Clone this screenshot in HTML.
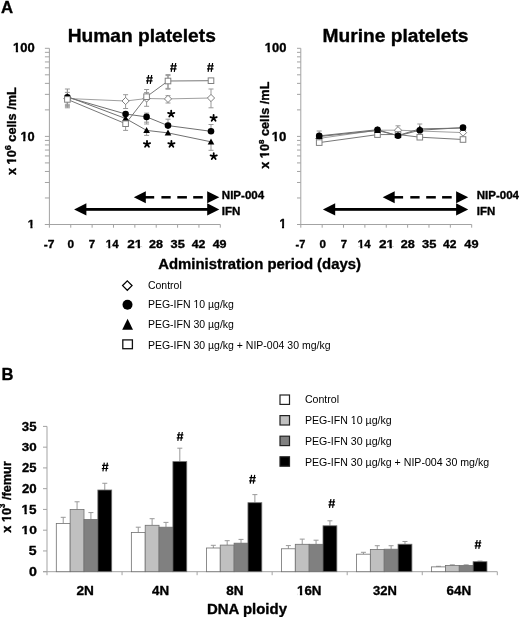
<!DOCTYPE html>
<html><head><meta charset="utf-8"><style>
html,body{margin:0;padding:0;background:#fff;width:520px;height:617px;overflow:hidden}
svg{display:block;will-change:transform;filter:blur(0.3px)}
</style></head><body>
<svg width="520" height="617" viewBox="0 0 520 617">
<rect width="520" height="617" fill="#fff"/>
<g transform="matrix(1.0468,0,0,0.9926,0.97,13.44)" font-family="&quot;Liberation Sans&quot;, sans-serif" font-weight="bold" stroke="#000" stroke-width="0.343" stroke-linejoin="round" fill="#000"><text xml:space="preserve" x="0.00" y="0.00" font-size="16.00">A</text></g>
<g transform="matrix(1.0357,0,0,1.0889,1.54,380.38)" font-family="&quot;Liberation Sans&quot;, sans-serif" font-weight="bold" stroke="#000" stroke-width="0.329" stroke-linejoin="round" fill="#000"><text xml:space="preserve" x="0.00" y="0.00" font-size="16.00">B</text></g>
<g transform="matrix(1.0101,0,0,0.9812,67.66,41.74)" font-family="&quot;Liberation Sans&quot;, sans-serif" font-weight="bold" stroke="#000" stroke-width="0.352" stroke-linejoin="round" fill="#000"><text xml:space="preserve" x="0.00" y="0.00" font-size="19.00">Human platelets</text></g>
<g stroke="#a3a3a3" stroke-width="1" fill="none">
<line x1="49.4" y1="48.3" x2="49.4" y2="224.5"/>
<line x1="44.9" y1="224.5" x2="220.3" y2="224.5"/>
<line x1="44.9" y1="224.50" x2="49.4" y2="224.50"/>
<line x1="44.9" y1="197.98" x2="49.4" y2="197.98"/>
<line x1="44.9" y1="182.47" x2="49.4" y2="182.47"/>
<line x1="44.9" y1="171.46" x2="49.4" y2="171.46"/>
<line x1="44.9" y1="162.92" x2="49.4" y2="162.92"/>
<line x1="44.9" y1="155.94" x2="49.4" y2="155.94"/>
<line x1="44.9" y1="150.05" x2="49.4" y2="150.05"/>
<line x1="44.9" y1="144.94" x2="49.4" y2="144.94"/>
<line x1="44.9" y1="140.43" x2="49.4" y2="140.43"/>
<line x1="44.9" y1="136.40" x2="49.4" y2="136.40"/>
<line x1="44.9" y1="109.88" x2="49.4" y2="109.88"/>
<line x1="44.9" y1="94.37" x2="49.4" y2="94.37"/>
<line x1="44.9" y1="83.36" x2="49.4" y2="83.36"/>
<line x1="44.9" y1="74.82" x2="49.4" y2="74.82"/>
<line x1="44.9" y1="67.84" x2="49.4" y2="67.84"/>
<line x1="44.9" y1="61.95" x2="49.4" y2="61.95"/>
<line x1="44.9" y1="56.84" x2="49.4" y2="56.84"/>
<line x1="44.9" y1="52.33" x2="49.4" y2="52.33"/>
<line x1="44.9" y1="48.3" x2="49.4" y2="48.3"/>
<line x1="49.40" y1="224.5" x2="49.40" y2="227.7"/>
<line x1="70.76" y1="224.5" x2="70.76" y2="227.7"/>
<line x1="92.12" y1="224.5" x2="92.12" y2="227.7"/>
<line x1="113.49" y1="224.5" x2="113.49" y2="227.7"/>
<line x1="134.85" y1="224.5" x2="134.85" y2="227.7"/>
<line x1="156.21" y1="224.5" x2="156.21" y2="227.7"/>
<line x1="177.58" y1="224.5" x2="177.58" y2="227.7"/>
<line x1="198.94" y1="224.5" x2="198.94" y2="227.7"/>
<line x1="220.30" y1="224.5" x2="220.30" y2="227.7"/>
</g>
<g transform="matrix(1.0816,0,0,1.0102,13.01,52.17)" font-family="&quot;Liberation Sans&quot;, sans-serif" font-weight="bold" stroke="#000" stroke-width="0.335" stroke-linejoin="round" fill="#000"><text xml:space="preserve" x="0.00" y="0.00" font-size="12.00">100</text><rect x="0.087" y="-2.160" width="2.474" height="3.729" fill="#fff" stroke="none"/><rect x="4.687" y="-2.160" width="2.322" height="3.729" fill="#fff" stroke="none"/></g>
<g transform="matrix(1.0669,0,0,1.0100,20.41,140.61)" font-family="&quot;Liberation Sans&quot;, sans-serif" font-weight="bold" stroke="#000" stroke-width="0.337" stroke-linejoin="round" fill="#000"><text xml:space="preserve" x="0.00" y="0.00" font-size="12.00">10</text><rect x="0.082" y="-2.164" width="2.479" height="3.738" fill="#fff" stroke="none"/><rect x="4.687" y="-2.164" width="2.327" height="3.738" fill="#fff" stroke="none"/></g>
<g transform="matrix(1.0016,0,0,0.9835,27.82,227.64)" font-family="&quot;Liberation Sans&quot;, sans-serif" font-weight="bold" stroke="#000" stroke-width="0.353" stroke-linejoin="round" fill="#000"><text xml:space="preserve" x="0.00" y="0.00" font-size="12.00">1</text><rect x="0.051" y="-2.189" width="2.510" height="3.794" fill="#fff" stroke="none"/><rect x="4.687" y="-2.189" width="2.358" height="3.794" fill="#fff" stroke="none"/></g>
<g transform="matrix(1.0100,0,0,0.9404,43.82,248.44)" font-family="&quot;Liberation Sans&quot;, sans-serif" font-weight="bold" stroke="#000" stroke-width="0.359" stroke-linejoin="round" fill="#000"><text xml:space="preserve" x="0.00" y="0.00" font-size="12.00">-7</text></g>
<g transform="matrix(0.9858,0,0,0.9452,67.50,248.34)" font-family="&quot;Liberation Sans&quot;, sans-serif" font-weight="bold" stroke="#000" stroke-width="0.363" stroke-linejoin="round" fill="#000"><text xml:space="preserve" x="0.00" y="0.00" font-size="12.00">0</text></g>
<g transform="matrix(0.9566,0,0,0.9468,88.68,248.49)" font-family="&quot;Liberation Sans&quot;, sans-serif" font-weight="bold" stroke="#000" stroke-width="0.368" stroke-linejoin="round" fill="#000"><text xml:space="preserve" x="0.00" y="0.00" font-size="12.00">7</text></g>
<g transform="matrix(0.9592,0,0,0.9404,105.85,248.44)" font-family="&quot;Liberation Sans&quot;, sans-serif" font-weight="bold" stroke="#000" stroke-width="0.369" stroke-linejoin="round" fill="#000"><text xml:space="preserve" x="0.00" y="0.00" font-size="12.00">14</text><rect x="0.019" y="-2.214" width="2.542" height="3.851" fill="#fff" stroke="none"/><rect x="4.687" y="-2.214" width="2.390" height="3.851" fill="#fff" stroke="none"/></g>
<g transform="matrix(1.1308,0,0,0.9328,127.21,248.44)" font-family="&quot;Liberation Sans&quot;, sans-serif" font-weight="bold" stroke="#000" stroke-width="0.339" stroke-linejoin="round" fill="#000"><text xml:space="preserve" x="0.00" y="0.00" font-size="12.00">21</text><rect x="6.751" y="-2.167" width="2.483" height="3.746" fill="#fff" stroke="none"/><rect x="11.361" y="-2.167" width="2.331" height="3.746" fill="#fff" stroke="none"/></g>
<g transform="matrix(1.0459,0,0,0.9062,149.05,248.15)" font-family="&quot;Liberation Sans&quot;, sans-serif" font-weight="bold" stroke="#000" stroke-width="0.359" stroke-linejoin="round" fill="#000"><text xml:space="preserve" x="0.00" y="0.00" font-size="12.00">28</text></g>
<g transform="matrix(1.0677,0,0,0.8988,170.55,248.20)" font-family="&quot;Liberation Sans&quot;, sans-serif" font-weight="bold" stroke="#000" stroke-width="0.356" stroke-linejoin="round" fill="#000"><text xml:space="preserve" x="0.00" y="0.00" font-size="12.00">35</text></g>
<g transform="matrix(1.0288,0,0,0.9269,191.69,248.44)" font-family="&quot;Liberation Sans&quot;, sans-serif" font-weight="bold" stroke="#000" stroke-width="0.358" stroke-linejoin="round" fill="#000"><text xml:space="preserve" x="0.00" y="0.00" font-size="12.00">42</text></g>
<g transform="matrix(1.0434,0,0,0.8925,212.63,248.15)" font-family="&quot;Liberation Sans&quot;, sans-serif" font-weight="bold" stroke="#000" stroke-width="0.362" stroke-linejoin="round" fill="#000"><text xml:space="preserve" x="0.00" y="0.00" font-size="12.00">49</text></g>
<g transform="translate(15.55,175.07) rotate(-90) scale(1.0622,1.0109)" font-family="&quot;Liberation Sans&quot;, sans-serif" font-weight="bold" stroke="#000" stroke-width="0.338" stroke-linejoin="round" fill="#000"><text xml:space="preserve" x="0.00" y="0.00" font-size="12.00">x 10</text><text xml:space="preserve" x="23.36" y="-4.08" font-size="8.64">6</text><text xml:space="preserve" x="28.16" y="0.00" font-size="12.00"> cells /mL</text><rect x="10.089" y="-2.165" width="2.480" height="3.740" fill="#fff" stroke="none"/><rect x="14.696" y="-2.165" width="2.328" height="3.740" fill="#fff" stroke="none"/></g>
<rect x="84.10" y="208.0" width="124.10" height="2.8" fill="#000"/>
<polygon points="74.10,209.4 86.40,203.35 86.40,215.45000000000002" fill="#000"/>
<polygon points="219.30,209.4 207.20,203.35 207.20,215.45000000000002" fill="#000"/>
<polygon points="133.80,197.3 145.80,191.25 145.80,203.35000000000002" fill="#000"/>
<rect x="143.80" y="196.05" width="10.40" height="2.5" fill="#000"/>
<rect x="161.40" y="196.05" width="9.30" height="2.5" fill="#000"/>
<rect x="177.30" y="196.05" width="9.60" height="2.5" fill="#000"/>
<rect x="193.20" y="196.05" width="9.60" height="2.5" fill="#000"/>
<polygon points="219.30,197.3 207.20,191.25 207.20,203.35000000000002" fill="#000"/>
<g transform="matrix(1.0496,0,0,1.0155,221.84,199.13)" font-family="&quot;Liberation Sans&quot;, sans-serif" font-weight="bold" stroke="#000" stroke-width="0.339" stroke-linejoin="round" fill="#000"><text xml:space="preserve" x="0.00" y="0.00" font-size="11.00">NIP-004</text></g>
<g transform="matrix(1.0506,0,0,1.0259,221.84,215.38)" font-family="&quot;Liberation Sans&quot;, sans-serif" font-weight="bold" stroke="#000" stroke-width="0.337" stroke-linejoin="round" fill="#000"><text xml:space="preserve" x="0.00" y="0.00" font-size="11.00">IFN</text></g>
<g stroke="#999999" stroke-width="1">
<line x1="67.4" y1="89" x2="67.4" y2="107.8"/>
<line x1="64.9" y1="89" x2="69.9" y2="89"/>
<line x1="64.9" y1="107.8" x2="69.9" y2="107.8"/>
<line x1="67.4" y1="92.4" x2="67.4" y2="104.3"/>
<line x1="64.9" y1="92.4" x2="69.9" y2="92.4"/>
<line x1="64.9" y1="104.3" x2="69.9" y2="104.3"/>
<line x1="67.4" y1="92.4" x2="67.4" y2="105.6"/>
<line x1="64.9" y1="105.6" x2="69.9" y2="105.6"/>
<line x1="67.4" y1="89" x2="67.4" y2="106.7"/>
<line x1="64.9" y1="106.7" x2="69.9" y2="106.7"/>
<line x1="125.6" y1="94.7" x2="125.6" y2="108.5"/>
<line x1="123.1" y1="94.7" x2="128.1" y2="94.7"/>
<line x1="123.1" y1="108.5" x2="128.1" y2="108.5"/>
<line x1="125.6" y1="123.7" x2="125.6" y2="130.4"/>
<line x1="123.1" y1="130.4" x2="128.1" y2="130.4"/>
<line x1="146.6" y1="89.5" x2="146.6" y2="106.3"/>
<line x1="144.1" y1="89.5" x2="149.1" y2="89.5"/>
<line x1="144.1" y1="106.3" x2="149.1" y2="106.3"/>
<line x1="146.6" y1="92.6" x2="146.6" y2="99"/>
<line x1="144.1" y1="92.6" x2="149.1" y2="92.6"/>
<line x1="146.6" y1="113.1" x2="146.6" y2="124.0"/>
<line x1="144.1" y1="113.1" x2="149.1" y2="113.1"/>
<line x1="144.1" y1="124.0" x2="149.1" y2="124.0"/>
<line x1="146.6" y1="116.9" x2="146.6" y2="122.2"/>
<line x1="144.1" y1="122.2" x2="149.1" y2="122.2"/>
<line x1="146.6" y1="130.4" x2="146.6" y2="135.4"/>
<line x1="144.1" y1="135.4" x2="149.1" y2="135.4"/>
<line x1="168.0" y1="74.6" x2="168.0" y2="89.2"/>
<line x1="165.5" y1="74.6" x2="170.5" y2="74.6"/>
<line x1="165.5" y1="89.2" x2="170.5" y2="89.2"/>
<line x1="168.0" y1="75.6" x2="168.0" y2="88.4"/>
<line x1="165.5" y1="75.6" x2="170.5" y2="75.6"/>
<line x1="165.5" y1="88.4" x2="170.5" y2="88.4"/>
<line x1="168.0" y1="95.7" x2="168.0" y2="103"/>
<line x1="165.5" y1="95.7" x2="170.5" y2="95.7"/>
<line x1="165.5" y1="103" x2="170.5" y2="103"/>
<line x1="168.0" y1="119.2" x2="168.0" y2="125.6"/>
<line x1="165.5" y1="119.2" x2="170.5" y2="119.2"/>
<line x1="211.0" y1="89" x2="211.0" y2="107.8"/>
<line x1="208.5" y1="89" x2="213.5" y2="89"/>
<line x1="208.5" y1="107.8" x2="213.5" y2="107.8"/>
<line x1="211.0" y1="124.5" x2="211.0" y2="131.3"/>
<line x1="208.5" y1="124.5" x2="213.5" y2="124.5"/>
<line x1="211.0" y1="141.8" x2="211.0" y2="150.3"/>
<line x1="208.5" y1="150.3" x2="213.5" y2="150.3"/>
</g>
<polyline points="67.4,98.5 125.6,101.0 146.6,98.5 168.0,98.9 211.0,98.0" fill="none" stroke="#a0a0a0" stroke-width="1"/>
<polyline points="67.4,99.4 125.6,123.7 146.6,96.7 168.0,81.0 211.0,80.7" fill="none" stroke="#787878" stroke-width="1"/>
<polyline points="67.4,97.2 125.6,114.0 146.6,116.9 168.0,125.6 211.0,131.3" fill="none" stroke="#707070" stroke-width="1"/>
<polyline points="67.4,96.6 125.6,118.5 146.6,130.4 168.0,132.9 211.0,141.8" fill="none" stroke="#707070" stroke-width="1"/>
<polygon points="67.4,94.9 71.0,98.5 67.4,102.1 63.800000000000004,98.5" fill="#fff" stroke="#808080" stroke-width="1"/>
<polygon points="125.6,97.4 129.2,101.0 125.6,104.6 122.0,101.0" fill="#fff" stroke="#808080" stroke-width="1"/>
<polygon points="146.6,94.9 150.2,98.5 146.6,102.1 143.0,98.5" fill="#fff" stroke="#808080" stroke-width="1"/>
<polygon points="168.0,95.30000000000001 171.6,98.9 168.0,102.5 164.4,98.9" fill="#fff" stroke="#808080" stroke-width="1"/>
<polygon points="211.0,94.4 214.6,98.0 211.0,101.6 207.4,98.0" fill="#fff" stroke="#808080" stroke-width="1"/>
<circle cx="67.4" cy="97.2" r="3.3" fill="#000"/>
<circle cx="125.6" cy="114.0" r="3.3" fill="#000"/>
<circle cx="146.6" cy="116.9" r="3.3" fill="#000"/>
<circle cx="168.0" cy="125.6" r="3.3" fill="#000"/>
<circle cx="211.0" cy="131.3" r="3.3" fill="#000"/>
<polygon points="67.4,93.19999999999999 70.7,99.19999999999999 64.10000000000001,99.19999999999999" fill="#000"/>
<polygon points="125.6,115.1 128.9,121.1 122.3,121.1" fill="#000"/>
<polygon points="146.6,127.0 149.9,133.0 143.29999999999998,133.0" fill="#000"/>
<polygon points="168.0,129.5 171.3,135.5 164.7,135.5" fill="#000"/>
<polygon points="211.0,138.4 214.3,144.4 207.7,144.4" fill="#000"/>
<rect x="64.60000000000001" y="96.60000000000001" width="5.6" height="5.6" fill="#fff" stroke="#808080" stroke-width="1"/>
<rect x="122.8" y="120.9" width="5.6" height="5.6" fill="#fff" stroke="#808080" stroke-width="1"/>
<rect x="143.79999999999998" y="93.9" width="5.6" height="5.6" fill="#fff" stroke="#808080" stroke-width="1"/>
<rect x="165.2" y="78.2" width="5.6" height="5.6" fill="#fff" stroke="#808080" stroke-width="1"/>
<rect x="208.2" y="77.9" width="5.6" height="5.6" fill="#fff" stroke="#808080" stroke-width="1"/>
<path d="M147.20,83.80L148.60,75.00M150.30,83.80L151.70,75.00M146.40,77.80L152.80,77.80M146.10,80.90L152.50,80.90" stroke="#000" stroke-width="1.2" fill="none"/>
<path d="M171.20,71.80L172.60,63.00M174.30,71.80L175.70,63.00M170.40,65.80L176.80,65.80M170.10,68.90L176.50,68.90" stroke="#000" stroke-width="1.2" fill="none"/>
<path d="M208.10,71.80L209.50,63.00M211.20,71.80L212.60,63.00M207.30,65.80L213.70,65.80M207.00,68.90L213.40,68.90" stroke="#000" stroke-width="1.2" fill="none"/>
<path d="M147.00,144.10L147.00,140.80M147.00,144.10L150.14,143.08M147.00,144.10L148.94,146.77M147.00,144.10L145.06,146.77M147.00,144.10L143.86,143.08" stroke="#000" stroke-width="1.8" stroke-linecap="round" fill="none"/>
<path d="M171.20,113.90L171.20,110.60M171.20,113.90L174.34,112.88M171.20,113.90L173.14,116.57M171.20,113.90L169.26,116.57M171.20,113.90L168.06,112.88" stroke="#000" stroke-width="1.8" stroke-linecap="round" fill="none"/>
<path d="M171.40,144.10L171.40,140.80M171.40,144.10L174.54,143.08M171.40,144.10L173.34,146.77M171.40,144.10L169.46,146.77M171.40,144.10L168.26,143.08" stroke="#000" stroke-width="1.8" stroke-linecap="round" fill="none"/>
<path d="M213.60,118.10L213.60,114.80M213.60,118.10L216.74,117.08M213.60,118.10L215.54,120.77M213.60,118.10L211.66,120.77M213.60,118.10L210.46,117.08" stroke="#000" stroke-width="1.8" stroke-linecap="round" fill="none"/>
<path d="M213.70,156.40L213.70,153.10M213.70,156.40L216.84,155.38M213.70,156.40L215.64,159.07M213.70,156.40L211.76,159.07M213.70,156.40L210.56,155.38" stroke="#000" stroke-width="1.8" stroke-linecap="round" fill="none"/>
<g transform="matrix(1.0105,0,0,0.9812,322.50,41.74)" font-family="&quot;Liberation Sans&quot;, sans-serif" font-weight="bold" stroke="#000" stroke-width="0.351" stroke-linejoin="round" fill="#000"><text xml:space="preserve" x="0.00" y="0.00" font-size="19.00">Murine platelets</text></g>
<g stroke="#a3a3a3" stroke-width="1" fill="none">
<line x1="300.8" y1="48.3" x2="300.8" y2="224.5"/>
<line x1="297.0" y1="224.5" x2="471.70000000000005" y2="224.5"/>
<line x1="297.0" y1="224.50" x2="300.8" y2="224.50"/>
<line x1="297.0" y1="197.98" x2="300.8" y2="197.98"/>
<line x1="297.0" y1="182.47" x2="300.8" y2="182.47"/>
<line x1="297.0" y1="171.46" x2="300.8" y2="171.46"/>
<line x1="297.0" y1="162.92" x2="300.8" y2="162.92"/>
<line x1="297.0" y1="155.94" x2="300.8" y2="155.94"/>
<line x1="297.0" y1="150.05" x2="300.8" y2="150.05"/>
<line x1="297.0" y1="144.94" x2="300.8" y2="144.94"/>
<line x1="297.0" y1="140.43" x2="300.8" y2="140.43"/>
<line x1="297.0" y1="136.40" x2="300.8" y2="136.40"/>
<line x1="297.0" y1="109.88" x2="300.8" y2="109.88"/>
<line x1="297.0" y1="94.37" x2="300.8" y2="94.37"/>
<line x1="297.0" y1="83.36" x2="300.8" y2="83.36"/>
<line x1="297.0" y1="74.82" x2="300.8" y2="74.82"/>
<line x1="297.0" y1="67.84" x2="300.8" y2="67.84"/>
<line x1="297.0" y1="61.95" x2="300.8" y2="61.95"/>
<line x1="297.0" y1="56.84" x2="300.8" y2="56.84"/>
<line x1="297.0" y1="52.33" x2="300.8" y2="52.33"/>
<line x1="297.0" y1="48.3" x2="300.8" y2="48.3"/>
<line x1="300.80" y1="224.5" x2="300.80" y2="227.7"/>
<line x1="322.16" y1="224.5" x2="322.16" y2="227.7"/>
<line x1="343.53" y1="224.5" x2="343.53" y2="227.7"/>
<line x1="364.89" y1="224.5" x2="364.89" y2="227.7"/>
<line x1="386.25" y1="224.5" x2="386.25" y2="227.7"/>
<line x1="407.61" y1="224.5" x2="407.61" y2="227.7"/>
<line x1="428.98" y1="224.5" x2="428.98" y2="227.7"/>
<line x1="450.34" y1="224.5" x2="450.34" y2="227.7"/>
<line x1="471.70" y1="224.5" x2="471.70" y2="227.7"/>
</g>
<g transform="matrix(1.0785,0,0,1.0150,264.83,52.18)" font-family="&quot;Liberation Sans&quot;, sans-serif" font-weight="bold" stroke="#000" stroke-width="0.334" stroke-linejoin="round" fill="#000"><text xml:space="preserve" x="0.00" y="0.00" font-size="12.00">100</text><rect x="0.087" y="-2.160" width="2.474" height="3.728" fill="#fff" stroke="none"/><rect x="4.687" y="-2.160" width="2.321" height="3.728" fill="#fff" stroke="none"/></g>
<g transform="matrix(1.0998,0,0,1.0502,271.78,140.61)" font-family="&quot;Liberation Sans&quot;, sans-serif" font-weight="bold" stroke="#000" stroke-width="0.326" stroke-linejoin="round" fill="#000"><text xml:space="preserve" x="0.00" y="0.00" font-size="12.00">10</text><rect x="0.105" y="-2.146" width="2.456" height="3.697" fill="#fff" stroke="none"/><rect x="4.687" y="-2.146" width="2.304" height="3.697" fill="#fff" stroke="none"/></g>
<g transform="matrix(0.9918,0,0,1.0337,279.43,228.10)" font-family="&quot;Liberation Sans&quot;, sans-serif" font-weight="bold" stroke="#000" stroke-width="0.346" stroke-linejoin="round" fill="#000"><text xml:space="preserve" x="0.00" y="0.00" font-size="12.00">1</text><rect x="0.065" y="-2.178" width="2.496" height="3.769" fill="#fff" stroke="none"/><rect x="4.687" y="-2.178" width="2.344" height="3.769" fill="#fff" stroke="none"/></g>
<g transform="matrix(0.9184,0,0,0.9404,295.50,248.44)" font-family="&quot;Liberation Sans&quot;, sans-serif" font-weight="bold" stroke="#000" stroke-width="0.377" stroke-linejoin="round" fill="#000"><text xml:space="preserve" x="0.00" y="0.00" font-size="12.00">-7</text></g>
<g transform="matrix(0.9699,0,0,0.9342,319.47,248.29)" font-family="&quot;Liberation Sans&quot;, sans-serif" font-weight="bold" stroke="#000" stroke-width="0.368" stroke-linejoin="round" fill="#000"><text xml:space="preserve" x="0.00" y="0.00" font-size="12.00">0</text></g>
<g transform="matrix(0.9496,0,0,0.9455,340.68,248.48)" font-family="&quot;Liberation Sans&quot;, sans-serif" font-weight="bold" stroke="#000" stroke-width="0.369" stroke-linejoin="round" fill="#000"><text xml:space="preserve" x="0.00" y="0.00" font-size="12.00">7</text></g>
<g transform="matrix(0.9592,0,0,0.9404,357.85,248.44)" font-family="&quot;Liberation Sans&quot;, sans-serif" font-weight="bold" stroke="#000" stroke-width="0.369" stroke-linejoin="round" fill="#000"><text xml:space="preserve" x="0.00" y="0.00" font-size="12.00">14</text><rect x="0.019" y="-2.214" width="2.542" height="3.851" fill="#fff" stroke="none"/><rect x="4.687" y="-2.214" width="2.390" height="3.851" fill="#fff" stroke="none"/></g>
<g transform="matrix(1.1432,0,0,0.9282,378.90,248.44)" font-family="&quot;Liberation Sans&quot;, sans-serif" font-weight="bold" stroke="#000" stroke-width="0.338" stroke-linejoin="round" fill="#000"><text xml:space="preserve" x="0.00" y="0.00" font-size="12.00">21</text><rect x="6.754" y="-2.165" width="2.481" height="3.741" fill="#fff" stroke="none"/><rect x="11.361" y="-2.165" width="2.328" height="3.741" fill="#fff" stroke="none"/></g>
<g transform="matrix(1.0568,0,0,0.9059,400.72,248.15)" font-family="&quot;Liberation Sans&quot;, sans-serif" font-weight="bold" stroke="#000" stroke-width="0.357" stroke-linejoin="round" fill="#000"><text xml:space="preserve" x="0.00" y="0.00" font-size="12.00">28</text></g>
<g transform="matrix(1.0703,0,0,0.8990,422.06,248.21)" font-family="&quot;Liberation Sans&quot;, sans-serif" font-weight="bold" stroke="#000" stroke-width="0.355" stroke-linejoin="round" fill="#000"><text xml:space="preserve" x="0.00" y="0.00" font-size="12.00">35</text></g>
<g transform="matrix(1.0100,0,0,0.9269,443.08,248.44)" font-family="&quot;Liberation Sans&quot;, sans-serif" font-weight="bold" stroke="#000" stroke-width="0.361" stroke-linejoin="round" fill="#000"><text xml:space="preserve" x="0.00" y="0.00" font-size="12.00">42</text></g>
<g transform="matrix(1.0648,0,0,0.8925,464.36,248.15)" font-family="&quot;Liberation Sans&quot;, sans-serif" font-weight="bold" stroke="#000" stroke-width="0.358" stroke-linejoin="round" fill="#000"><text xml:space="preserve" x="0.00" y="0.00" font-size="12.00">49</text></g>
<g transform="translate(268.62,168.75) rotate(-90) scale(1.0271,1.0209)" font-family="&quot;Liberation Sans&quot;, sans-serif" font-weight="bold" stroke="#000" stroke-width="0.342" stroke-linejoin="round" fill="#000"><text xml:space="preserve" x="0.00" y="0.00" font-size="12.40">x 10</text><text xml:space="preserve" x="24.13" y="-4.84" font-size="7.69">8</text><text xml:space="preserve" x="28.41" y="0.00" font-size="12.40"> cells /mL</text><rect x="10.439" y="-2.212" width="2.549" height="3.796" fill="#fff" stroke="none"/><rect x="15.185" y="-2.212" width="2.391" height="3.796" fill="#fff" stroke="none"/></g>
<rect x="332.90" y="208.0" width="124.20" height="2.8" fill="#000"/>
<polygon points="322.90,209.4 335.20,203.35 335.20,215.45000000000002" fill="#000"/>
<polygon points="468.20,209.4 456.10,203.35 456.10,215.45000000000002" fill="#000"/>
<polygon points="382.70,197.3 394.70,191.25 394.70,203.35000000000002" fill="#000"/>
<rect x="392.70" y="196.05" width="10.40" height="2.5" fill="#000"/>
<rect x="410.30" y="196.05" width="9.30" height="2.5" fill="#000"/>
<rect x="426.20" y="196.05" width="9.60" height="2.5" fill="#000"/>
<rect x="442.10" y="196.05" width="9.60" height="2.5" fill="#000"/>
<polygon points="468.20,197.3 456.10,191.25 456.10,203.35000000000002" fill="#000"/>
<g transform="matrix(1.0495,0,0,1.0155,476.73,199.13)" font-family="&quot;Liberation Sans&quot;, sans-serif" font-weight="bold" stroke="#000" stroke-width="0.339" stroke-linejoin="round" fill="#000"><text xml:space="preserve" x="0.00" y="0.00" font-size="11.00">NIP-004</text></g>
<g transform="matrix(1.0413,0,0,1.0259,476.73,215.38)" font-family="&quot;Liberation Sans&quot;, sans-serif" font-weight="bold" stroke="#000" stroke-width="0.339" stroke-linejoin="round" fill="#000"><text xml:space="preserve" x="0.00" y="0.00" font-size="11.00">IFN</text></g>
<g stroke="#999999" stroke-width="1">
<line x1="319.2" y1="131.0" x2="319.2" y2="139"/>
<line x1="316.7" y1="131.0" x2="321.7" y2="131.0"/>
<line x1="316.7" y1="139" x2="321.7" y2="139"/>
<line x1="398.0" y1="125.8" x2="398.0" y2="131"/>
<line x1="395.5" y1="125.8" x2="400.5" y2="125.8"/>
<line x1="395.5" y1="131" x2="400.5" y2="131"/>
<line x1="419.8" y1="124.0" x2="419.8" y2="129"/>
<line x1="417.3" y1="124.0" x2="422.3" y2="124.0"/>
<line x1="417.3" y1="129" x2="422.3" y2="129"/>
</g>
<polyline points="319.2,138.4 377.5,130.2 398.0,130.2 419.8,131.0 463.0,132.6" fill="none" stroke="#a0a0a0" stroke-width="1"/>
<polyline points="319.2,142.6 377.5,134.6 398.0,134.5 419.8,137.2 463.0,139.5" fill="none" stroke="#787878" stroke-width="1"/>
<polyline points="319.2,135.9 377.5,129.7 398.0,135.8 419.8,130.2 463.0,127.6" fill="none" stroke="#707070" stroke-width="1"/>
<polyline points="319.2,136.5 377.5,130.5 398.0,135.5 419.8,128.9 463.0,128.0" fill="none" stroke="#707070" stroke-width="1"/>
<polygon points="319.2,134.8 322.8,138.4 319.2,142.0 315.59999999999997,138.4" fill="#fff" stroke="#808080" stroke-width="1"/>
<polygon points="377.5,126.6 381.1,130.2 377.5,133.79999999999998 373.9,130.2" fill="#fff" stroke="#808080" stroke-width="1"/>
<polygon points="398.0,126.6 401.6,130.2 398.0,133.79999999999998 394.4,130.2" fill="#fff" stroke="#808080" stroke-width="1"/>
<polygon points="419.8,127.4 423.40000000000003,131.0 419.8,134.6 416.2,131.0" fill="#fff" stroke="#808080" stroke-width="1"/>
<polygon points="463.0,129.0 466.6,132.6 463.0,136.2 459.4,132.6" fill="#fff" stroke="#808080" stroke-width="1"/>
<rect x="316.4" y="139.79999999999998" width="5.6" height="5.6" fill="#fff" stroke="#808080" stroke-width="1"/>
<rect x="374.7" y="131.79999999999998" width="5.6" height="5.6" fill="#fff" stroke="#808080" stroke-width="1"/>
<rect x="395.2" y="131.7" width="5.6" height="5.6" fill="#fff" stroke="#808080" stroke-width="1"/>
<rect x="417.0" y="134.39999999999998" width="5.6" height="5.6" fill="#fff" stroke="#808080" stroke-width="1"/>
<rect x="460.2" y="136.7" width="5.6" height="5.6" fill="#fff" stroke="#808080" stroke-width="1"/>
<circle cx="319.2" cy="135.9" r="3.3" fill="#000"/>
<circle cx="377.5" cy="129.7" r="3.3" fill="#000"/>
<circle cx="398.0" cy="135.8" r="3.3" fill="#000"/>
<circle cx="419.8" cy="130.2" r="3.3" fill="#000"/>
<circle cx="463.0" cy="127.6" r="3.3" fill="#000"/>
<polygon points="319.2,133.1 322.5,139.1 315.9,139.1" fill="#000"/>
<polygon points="377.5,127.1 380.8,133.1 374.2,133.1" fill="#000"/>
<polygon points="398.0,132.1 401.3,138.1 394.7,138.1" fill="#000"/>
<polygon points="419.8,125.5 423.1,131.5 416.5,131.5" fill="#000"/>
<polygon points="463.0,124.6 466.3,130.6 459.7,130.6" fill="#000"/>
<g transform="matrix(1.0072,0,0,1.0504,158.22,268.77)" font-family="&quot;Liberation Sans&quot;, sans-serif" font-weight="bold" stroke="#000" stroke-width="0.340" stroke-linejoin="round" fill="#000"><text xml:space="preserve" x="0.00" y="0.00" font-size="14.80">Administration period (days)</text></g>
<g font-family="&quot;Liberation Sans&quot;, sans-serif" font-size="10.5">
<text x="147.9" y="289.4">Control</text>
<text x="147.9" y="308.3">PEG-IFN 10 µg/kg</text>
<rect x="193" y="307" width="3" height="3" fill="#fff" shape-rendering="crispEdges"/><rect x="197" y="307" width="3" height="3" fill="#fff" shape-rendering="crispEdges"/>
<text x="147.9" y="328.0">PEG-IFN 30 µg/kg</text>
<text x="147.9" y="348.6">PEG-IFN 30 µg/kg + NIP-004 30 mg/kg</text>
</g>
<polygon points="127.3,280.9 132.0,285.6 127.3,290.3 122.6,285.6" fill="#fff" stroke="#000" stroke-width="1.3"/>
<circle cx="127.5" cy="304.7" r="5.0" fill="#000"/>
<polygon points="127.6,318.8 133.0,329.8 122.2,329.8" fill="#000"/>
<rect x="122.8" y="339.9" width="9.6" height="8.8" fill="#fff" stroke="#111" stroke-width="1.3"/>
<g stroke="#a3a3a3" stroke-width="1" fill="none">
<line x1="47.0" y1="426.4" x2="47.0" y2="571.7"/>
<line x1="43.0" y1="571.7" x2="497.3" y2="571.7"/>
<line x1="43.0" y1="571.70" x2="47.0" y2="571.70"/>
<line x1="43.0" y1="550.94" x2="47.0" y2="550.94"/>
<line x1="43.0" y1="530.19" x2="47.0" y2="530.19"/>
<line x1="43.0" y1="509.43" x2="47.0" y2="509.43"/>
<line x1="43.0" y1="488.67" x2="47.0" y2="488.67"/>
<line x1="43.0" y1="467.91" x2="47.0" y2="467.91"/>
<line x1="43.0" y1="447.16" x2="47.0" y2="447.16"/>
<line x1="43.0" y1="426.40" x2="47.0" y2="426.40"/>
<line x1="47.00" y1="571.7" x2="47.00" y2="575.2"/>
<line x1="122.05" y1="571.7" x2="122.05" y2="575.2"/>
<line x1="197.10" y1="571.7" x2="197.10" y2="575.2"/>
<line x1="272.15" y1="571.7" x2="272.15" y2="575.2"/>
<line x1="347.20" y1="571.7" x2="347.20" y2="575.2"/>
<line x1="422.25" y1="571.7" x2="422.25" y2="575.2"/>
<line x1="497.30" y1="571.7" x2="497.30" y2="575.2"/>
</g>
<g transform="matrix(1.1540,0,0,1.0109,28.91,575.68)" font-family="&quot;Liberation Sans&quot;, sans-serif" font-weight="bold" stroke="#000" stroke-width="0.323" stroke-linejoin="round" fill="#000"><text xml:space="preserve" x="0.00" y="0.00" font-size="12.30">0</text></g>
<g transform="matrix(1.1452,0,0,0.9942,28.76,555.27)" font-family="&quot;Liberation Sans&quot;, sans-serif" font-weight="bold" stroke="#000" stroke-width="0.327" stroke-linejoin="round" fill="#000"><text xml:space="preserve" x="0.00" y="0.00" font-size="12.30">5</text></g>
<g transform="matrix(1.1197,0,0,0.9051,21.48,533.51)" font-family="&quot;Liberation Sans&quot;, sans-serif" font-weight="bold" stroke="#000" stroke-width="0.346" stroke-linejoin="round" fill="#000"><text xml:space="preserve" x="0.00" y="0.00" font-size="12.30">10</text><rect x="0.083" y="-2.208" width="2.541" height="3.800" fill="#fff" stroke="none"/><rect x="4.804" y="-2.208" width="2.385" height="3.800" fill="#fff" stroke="none"/></g>
<g transform="matrix(1.1005,0,0,0.9896,21.54,513.69)" font-family="&quot;Liberation Sans&quot;, sans-serif" font-weight="bold" stroke="#000" stroke-width="0.335" stroke-linejoin="round" fill="#000"><text xml:space="preserve" x="0.00" y="0.00" font-size="12.30">15</text><rect x="0.105" y="-2.191" width="2.520" height="3.761" fill="#fff" stroke="none"/><rect x="4.804" y="-2.191" width="2.364" height="3.761" fill="#fff" stroke="none"/></g>
<g transform="matrix(1.0750,0,0,1.0950,22.03,492.97)" font-family="&quot;Liberation Sans&quot;, sans-serif" font-weight="bold" stroke="#000" stroke-width="0.323" stroke-linejoin="round" fill="#000"><text xml:space="preserve" x="0.00" y="0.00" font-size="12.30">20</text></g>
<g transform="matrix(1.0583,0,0,1.0217,22.03,472.15)" font-family="&quot;Liberation Sans&quot;, sans-serif" font-weight="bold" stroke="#000" stroke-width="0.337" stroke-linejoin="round" fill="#000"><text xml:space="preserve" x="0.00" y="0.00" font-size="12.30">25</text></g>
<g transform="matrix(1.0881,0,0,0.9436,21.73,451.02)" font-family="&quot;Liberation Sans&quot;, sans-serif" font-weight="bold" stroke="#000" stroke-width="0.345" stroke-linejoin="round" fill="#000"><text xml:space="preserve" x="0.00" y="0.00" font-size="12.30">30</text></g>
<g transform="matrix(1.0720,0,0,1.0304,21.80,430.68)" font-family="&quot;Liberation Sans&quot;, sans-serif" font-weight="bold" stroke="#000" stroke-width="0.333" stroke-linejoin="round" fill="#000"><text xml:space="preserve" x="0.00" y="0.00" font-size="12.30">35</text></g>
<g transform="translate(10.57,532.66) rotate(-90) scale(0.9908,1.0310)" font-family="&quot;Liberation Sans&quot;, sans-serif" font-weight="bold" stroke="#000" stroke-width="0.346" stroke-linejoin="round" fill="#000"><text xml:space="preserve" x="0.00" y="0.00" font-size="12.80">x 10</text><text xml:space="preserve" x="24.91" y="-5.12" font-size="7.94">3</text><text xml:space="preserve" x="29.33" y="0.00" font-size="12.80"> /femur</text><rect x="10.789" y="-2.260" width="2.618" height="3.853" fill="#fff" stroke="none"/><rect x="15.675" y="-2.260" width="2.455" height="3.853" fill="#fff" stroke="none"/></g>
<line x1="63.22" y1="517.32" x2="63.22" y2="523.50" stroke="#999999" stroke-width="1"/>
<line x1="60.72" y1="517.32" x2="65.72" y2="517.32" stroke="#999999" stroke-width="1"/>
<rect x="56.30" y="523.50" width="13.85" height="48.20" fill="#ffffff" stroke="#707070" stroke-width="0.8"/>
<line x1="77.07" y1="501.79" x2="77.07" y2="509.59" stroke="#999999" stroke-width="1"/>
<line x1="74.57" y1="501.79" x2="79.57" y2="501.79" stroke="#999999" stroke-width="1"/>
<rect x="70.15" y="509.59" width="13.85" height="62.11" fill="#c0c0c0" stroke="#707070" stroke-width="0.8"/>
<line x1="90.92" y1="512.58" x2="90.92" y2="519.48" stroke="#999999" stroke-width="1"/>
<line x1="88.42" y1="512.58" x2="93.42" y2="512.58" stroke="#999999" stroke-width="1"/>
<rect x="84.00" y="519.48" width="13.85" height="52.22" fill="#808080" stroke="#707070" stroke-width="0.8"/>
<line x1="104.77" y1="483.27" x2="104.77" y2="490.00" stroke="#999999" stroke-width="1"/>
<line x1="102.27" y1="483.27" x2="107.27" y2="483.27" stroke="#999999" stroke-width="1"/>
<rect x="97.85" y="490.00" width="13.85" height="81.70" fill="#000000" stroke="#707070" stroke-width="0.8"/>
<line x1="138.28" y1="527.20" x2="138.28" y2="532.59" stroke="#999999" stroke-width="1"/>
<line x1="135.78" y1="527.20" x2="140.78" y2="527.20" stroke="#999999" stroke-width="1"/>
<rect x="131.35" y="532.59" width="13.85" height="39.11" fill="#ffffff" stroke="#707070" stroke-width="0.8"/>
<line x1="152.12" y1="518.69" x2="152.12" y2="525.29" stroke="#999999" stroke-width="1"/>
<line x1="149.62" y1="518.69" x2="154.62" y2="518.69" stroke="#999999" stroke-width="1"/>
<rect x="145.20" y="525.29" width="13.85" height="46.41" fill="#c0c0c0" stroke="#707070" stroke-width="0.8"/>
<line x1="165.97" y1="522.38" x2="165.97" y2="527.20" stroke="#999999" stroke-width="1"/>
<line x1="163.47" y1="522.38" x2="168.47" y2="522.38" stroke="#999999" stroke-width="1"/>
<rect x="159.05" y="527.20" width="13.85" height="44.50" fill="#808080" stroke="#707070" stroke-width="0.8"/>
<line x1="179.82" y1="448.19" x2="179.82" y2="461.60" stroke="#999999" stroke-width="1"/>
<line x1="177.32" y1="448.19" x2="182.32" y2="448.19" stroke="#999999" stroke-width="1"/>
<rect x="172.90" y="461.60" width="13.85" height="110.10" fill="#000000" stroke="#707070" stroke-width="0.8"/>
<line x1="213.33" y1="545.30" x2="213.33" y2="548.00" stroke="#999999" stroke-width="1"/>
<line x1="210.83" y1="545.30" x2="215.83" y2="545.30" stroke="#999999" stroke-width="1"/>
<rect x="206.40" y="548.00" width="13.85" height="23.70" fill="#ffffff" stroke="#707070" stroke-width="0.8"/>
<line x1="227.18" y1="540.69" x2="227.18" y2="545.09" stroke="#999999" stroke-width="1"/>
<line x1="224.68" y1="540.69" x2="229.68" y2="540.69" stroke="#999999" stroke-width="1"/>
<rect x="220.25" y="545.09" width="13.85" height="26.61" fill="#c0c0c0" stroke="#707070" stroke-width="0.8"/>
<line x1="241.03" y1="539.40" x2="241.03" y2="543.18" stroke="#999999" stroke-width="1"/>
<line x1="238.53" y1="539.40" x2="243.53" y2="539.40" stroke="#999999" stroke-width="1"/>
<rect x="234.10" y="543.18" width="13.85" height="28.52" fill="#808080" stroke="#707070" stroke-width="0.8"/>
<line x1="254.88" y1="494.61" x2="254.88" y2="502.70" stroke="#999999" stroke-width="1"/>
<line x1="252.38" y1="494.61" x2="257.38" y2="494.61" stroke="#999999" stroke-width="1"/>
<rect x="247.95" y="502.70" width="13.85" height="69.00" fill="#000000" stroke="#707070" stroke-width="0.8"/>
<line x1="288.38" y1="545.59" x2="288.38" y2="548.78" stroke="#999999" stroke-width="1"/>
<line x1="285.88" y1="545.59" x2="290.88" y2="545.59" stroke="#999999" stroke-width="1"/>
<rect x="281.45" y="548.78" width="13.85" height="22.92" fill="#ffffff" stroke="#707070" stroke-width="0.8"/>
<line x1="302.23" y1="539.11" x2="302.23" y2="544.30" stroke="#999999" stroke-width="1"/>
<line x1="299.73" y1="539.11" x2="304.73" y2="539.11" stroke="#999999" stroke-width="1"/>
<rect x="295.30" y="544.30" width="13.85" height="27.40" fill="#c0c0c0" stroke="#707070" stroke-width="0.8"/>
<line x1="316.07" y1="540.19" x2="316.07" y2="544.30" stroke="#999999" stroke-width="1"/>
<line x1="313.57" y1="540.19" x2="318.57" y2="540.19" stroke="#999999" stroke-width="1"/>
<rect x="309.15" y="544.30" width="13.85" height="27.40" fill="#808080" stroke="#707070" stroke-width="0.8"/>
<line x1="329.93" y1="520.80" x2="329.93" y2="525.79" stroke="#999999" stroke-width="1"/>
<line x1="327.43" y1="520.80" x2="332.43" y2="520.80" stroke="#999999" stroke-width="1"/>
<rect x="323.00" y="525.79" width="13.85" height="45.91" fill="#000000" stroke="#707070" stroke-width="0.8"/>
<line x1="363.43" y1="552.31" x2="363.43" y2="554.18" stroke="#999999" stroke-width="1"/>
<line x1="360.93" y1="552.31" x2="365.93" y2="552.31" stroke="#999999" stroke-width="1"/>
<rect x="356.50" y="554.18" width="13.85" height="17.52" fill="#ffffff" stroke="#707070" stroke-width="0.8"/>
<line x1="377.28" y1="545.71" x2="377.28" y2="549.49" stroke="#999999" stroke-width="1"/>
<line x1="374.78" y1="545.71" x2="379.78" y2="545.71" stroke="#999999" stroke-width="1"/>
<rect x="370.35" y="549.49" width="13.85" height="22.21" fill="#c0c0c0" stroke="#707070" stroke-width="0.8"/>
<line x1="391.12" y1="545.71" x2="391.12" y2="549.20" stroke="#999999" stroke-width="1"/>
<line x1="388.62" y1="545.71" x2="393.62" y2="545.71" stroke="#999999" stroke-width="1"/>
<rect x="384.20" y="549.20" width="13.85" height="22.50" fill="#808080" stroke="#707070" stroke-width="0.8"/>
<line x1="404.98" y1="541.48" x2="404.98" y2="544.22" stroke="#999999" stroke-width="1"/>
<line x1="402.48" y1="541.48" x2="407.48" y2="541.48" stroke="#999999" stroke-width="1"/>
<rect x="398.05" y="544.22" width="13.85" height="27.48" fill="#000000" stroke="#707070" stroke-width="0.8"/>
<line x1="438.48" y1="566.30" x2="438.48" y2="566.88" stroke="#999999" stroke-width="1"/>
<line x1="435.98" y1="566.30" x2="440.98" y2="566.30" stroke="#999999" stroke-width="1"/>
<rect x="431.55" y="566.88" width="13.85" height="4.82" fill="#ffffff" stroke="#707070" stroke-width="0.8"/>
<line x1="452.33" y1="564.85" x2="452.33" y2="565.51" stroke="#999999" stroke-width="1"/>
<line x1="449.83" y1="564.85" x2="454.83" y2="564.85" stroke="#999999" stroke-width="1"/>
<rect x="445.40" y="565.51" width="13.85" height="6.19" fill="#c0c0c0" stroke="#707070" stroke-width="0.8"/>
<line x1="466.18" y1="564.85" x2="466.18" y2="565.51" stroke="#999999" stroke-width="1"/>
<line x1="463.68" y1="564.85" x2="468.68" y2="564.85" stroke="#999999" stroke-width="1"/>
<rect x="459.25" y="565.51" width="13.85" height="6.19" fill="#808080" stroke="#707070" stroke-width="0.8"/>
<line x1="480.03" y1="561.11" x2="480.03" y2="561.70" stroke="#999999" stroke-width="1"/>
<line x1="477.53" y1="561.11" x2="482.53" y2="561.11" stroke="#999999" stroke-width="1"/>
<rect x="473.10" y="561.70" width="13.85" height="10.00" fill="#000000" stroke="#707070" stroke-width="0.8"/>
<path d="M102.90,471.40L104.30,462.60M106.00,471.40L107.40,462.60M102.10,465.40L108.50,465.40M101.80,468.50L108.20,468.50" stroke="#000" stroke-width="1.2" fill="none"/>
<path d="M177.80,440.80L179.20,432.00M180.90,440.80L182.30,432.00M177.00,434.80L183.40,434.80M176.70,437.90L183.10,437.90" stroke="#000" stroke-width="1.2" fill="none"/>
<path d="M250.20,483.70L251.60,474.90M253.30,483.70L254.70,474.90M249.40,477.70L255.80,477.70M249.10,480.80L255.50,480.80" stroke="#000" stroke-width="1.2" fill="none"/>
<path d="M329.50,507.80L330.90,499.00M332.60,507.80L334.00,499.00M328.70,501.80L335.10,501.80M328.40,504.90L334.80,504.90" stroke="#000" stroke-width="1.2" fill="none"/>
<path d="M475.70,548.80L477.10,540.00M478.80,548.80L480.20,540.00M474.90,542.80L481.30,542.80M474.60,545.90L481.00,545.90" stroke="#000" stroke-width="1.2" fill="none"/>
<g transform="matrix(1.0644,0,0,0.9496,76.51,594.94)" font-family="&quot;Liberation Sans&quot;, sans-serif" font-weight="bold" stroke="#000" stroke-width="0.348" stroke-linejoin="round" fill="#000"><text xml:space="preserve" x="0.00" y="0.00" font-size="12.80">2N</text></g>
<g transform="matrix(1.0419,0,0,0.9634,152.07,594.94)" font-family="&quot;Liberation Sans&quot;, sans-serif" font-weight="bold" stroke="#000" stroke-width="0.349" stroke-linejoin="round" fill="#000"><text xml:space="preserve" x="0.00" y="0.00" font-size="12.80">4N</text></g>
<g transform="matrix(1.0538,0,0,0.9745,226.27,595.16)" font-family="&quot;Liberation Sans&quot;, sans-serif" font-weight="bold" stroke="#000" stroke-width="0.345" stroke-linejoin="round" fill="#000"><text xml:space="preserve" x="0.00" y="0.00" font-size="12.80">8N</text></g>
<g transform="matrix(1.0389,0,0,0.9745,297.06,595.16)" font-family="&quot;Liberation Sans&quot;, sans-serif" font-weight="bold" stroke="#000" stroke-width="0.348" stroke-linejoin="round" fill="#000"><text xml:space="preserve" x="0.00" y="0.00" font-size="12.80">16N</text><rect x="0.111" y="-2.263" width="2.621" height="3.858" fill="#fff" stroke="none"/><rect x="5.000" y="-2.263" width="2.458" height="3.858" fill="#fff" stroke="none"/></g>
<g transform="matrix(1.0171,0,0,0.9807,373.10,595.22)" font-family="&quot;Liberation Sans&quot;, sans-serif" font-weight="bold" stroke="#000" stroke-width="0.350" stroke-linejoin="round" fill="#000"><text xml:space="preserve" x="0.00" y="0.00" font-size="12.80">32N</text></g>
<g transform="matrix(1.0462,0,0,0.9745,446.57,595.16)" font-family="&quot;Liberation Sans&quot;, sans-serif" font-weight="bold" stroke="#000" stroke-width="0.346" stroke-linejoin="round" fill="#000"><text xml:space="preserve" x="0.00" y="0.00" font-size="12.80">64N</text></g>
<g transform="matrix(1.0107,0,0,0.9503,207.01,613.88)" font-family="&quot;Liberation Sans&quot;, sans-serif" font-weight="bold" stroke="#000" stroke-width="0.357" stroke-linejoin="round" fill="#000"><text xml:space="preserve" x="0.00" y="0.00" font-size="14.80">DNA ploidy</text></g>
<g font-family="&quot;Liberation Sans&quot;, sans-serif" font-size="10.6">
<text x="304.9" y="403.0">Control</text>
<text x="304.9" y="423.7">PEG-IFN 10 µg/kg</text>
<rect x="351" y="422" width="2" height="3" fill="#fff" shape-rendering="crispEdges"/><rect x="355" y="422" width="2" height="3" fill="#fff" shape-rendering="crispEdges"/>
<text x="304.9" y="444.6">PEG-IFN 30 µg/kg</text>
<text x="304.9" y="465.6">PEG-IFN 30 µg/kg + NIP-004 30 mg/kg</text>
</g>
<rect x="280" y="395.0" width="9.5" height="9.4" fill="#ffffff" stroke="#222" stroke-width="1.2"/>
<rect x="280" y="415.6" width="9.5" height="9.4" fill="#c0c0c0" stroke="#222" stroke-width="1.2"/>
<rect x="280" y="436.2" width="9.5" height="9.4" fill="#808080" stroke="#222" stroke-width="1.2"/>
<rect x="280" y="456.8" width="9.5" height="9.4" fill="#000000" stroke="#222" stroke-width="1.2"/>
</svg>
</body></html>
